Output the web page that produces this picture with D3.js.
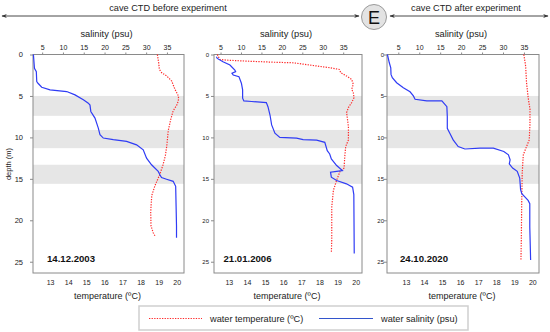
<!DOCTYPE html>
<html><head><meta charset="utf-8">
<script src="https://cdn.jsdelivr.net/npm/d3@7/dist/d3.min.js"></script>
<style>body{margin:0;background:#fff}svg{display:block;font-family:"Liberation Sans",Arial,sans-serif}</style>
</head><body>
<script>
// ---- data ----
const dates = ["14.12.2003", "21.01.2006", "24.10.2020"];
const salTicks = [5, 10, 15, 20, 25, 30, 35];
const tempTicks = [13, 14, 15, 16, 17, 18, 19, 20];
const depthTicks = [0, 5, 10, 15, 20, 25];
const bands = [[5.0, 7.4], [9.1, 11.3], [13.3, 15.6]];

// [depth, salinity]
const sal2003 = [[0,2.9],[1.67,3.15],[2.07,3.6],[3.27,3.7],[3.47,4.0],[3.95,4.9],[4.27,6.9],[4.47,10.9],[4.87,12.9],[5.47,14.9],[5.87,16.1],[6.1,16.5],[6.87,16.7],[7.67,17.7],[8.88,18.5],[9.68,18.9],[10.08,19.7],[10.28,22.1],[10.48,25.3],[10.9,27.7],[11.5,29.3],[12.5,30.1],[13.3,31.3],[14.1,32.9],[14.5,33.3],[14.85,33.7],[15.05,34.9],[15.3,36.5],[15.9,37.1],[18.3,37.2],[20.7,37.3],[22.1,37.3]];
// [depth, temperature]
const temp2003 = [[0,18.93],[1.0,19.0],[1.8,19.04],[2.2,19.17],[2.6,19.45],[3.2,19.72],[4.2,19.9],[5.0,20.09],[5.4,20.1],[6.0,20.03],[6.8,19.8],[7.8,19.67],[9.2,19.53],[11.0,19.45],[12.2,19.37],[13.4,19.23],[14.6,19.04],[15.8,18.8],[17.0,18.62],[19.0,18.56],[20.7,18.58],[21.5,18.7],[21.9,18.8]];

const sal2006 = [[0.26,4.0],[0.47,4.2],[0.87,5.6],[1.27,7.3],[1.87,8.5],[2.07,8.7],[2.27,7.8],[2.47,8.1],[2.67,9.5],[3.47,10.1],[4.27,10.4],[5.27,10.4],[5.6,10.7],[5.67,12.6],[5.8,16.2],[6.3,16.6],[7.3,17.1],[8.5,17.5],[9.5,18.3],[10.0,19.5],[10.1,23.6],[10.26,25.2],[10.34,28.5],[10.6,30.5],[11.6,31.1],[12.0,31.7],[12.6,32.1],[13.4,33.4],[14.0,34.8],[14.1,33.4],[14.2,31.9],[14.8,32.1],[15.2,33.4],[15.6,35.8],[16.0,37.3],[16.9,37.6],[24.0,37.7]];
const temp2006 = [[0,12.36],[0.6,12.5],[0.68,12.88],[0.8,13.98],[0.93,15.45],[1.0,16.56],[1.33,17.66],[1.6,18.59],[1.8,19.1],[2.2,19.18],[2.6,19.5],[3.0,19.78],[3.6,19.87],[4.2,19.78],[4.6,19.87],[5.2,19.91],[5.8,19.78],[6.4,19.6],[7.0,19.5],[8.7,19.6],[10.3,19.6],[11.1,19.45],[12.3,19.4],[13.7,19.36],[14.1,19.14],[15.1,18.96],[16.4,18.77],[18.4,18.68],[22.4,18.68],[23.8,18.66]];

const sal2020 = [[0,2.4],[1.0,2.85],[1.6,3.2],[2.4,3.26],[2.8,3.57],[3.4,4.6],[4.0,6.2],[4.5,7.8],[5.0,8.6],[5.4,9.0],[5.6,11.8],[5.6,15.4],[6.3,16.6],[7.5,16.7],[8.9,16.7],[9.5,17.3],[10.3,18.1],[11.1,19.3],[11.4,20.9],[11.3,24.5],[11.3,27.7],[11.7,30.2],[12.1,31.3],[12.7,31.7],[13.2,31.5],[13.7,32.3],[14.1,33.4],[14.9,34.0],[16.3,34.2],[16.8,34.5],[17.6,36.0],[18.0,36.4],[20.8,36.4],[24.8,36.6]];
const temp2020 = [[0,19.53],[1.4,19.63],[3.4,19.68],[5.2,19.77],[6.6,19.87],[8.3,19.87],[10.3,19.83],[11.1,19.68],[12.1,19.5],[14.3,19.44],[18.3,19.41],[22.4,19.39],[24.8,19.37]];

const salSeries = [sal2003, sal2006, sal2020];
const tempSeries = [temp2003, temp2006, temp2020];

// ---- layout ----
const W = 550, H = 332;
const panels = [
  {x0:33, x1:184, sal:[2.8,39.1], temp:[12.06,20.4], yLab:23, yFs:7.5, dateDx:14},
  {x0:214, x1:362, sal:[3.4,39.6], temp:[12.18,20.35], yLab:209, yFs:6, dateDx:9.5},
  {x0:387, x1:539, sal:[2.3,38.6], temp:[11.95,20.37], yLab:384, yFs:6, dateDx:13}
];
const yTop = 54.5, yBot = 273;
const y = d3.scaleLinear().domain([0, 26.36]).range([yTop, yBot]);
const BLUE = "#2f3cf5", RED = "#ff2a2a", BOX = "#8a8a8a";

const svg = d3.select("body").append("svg").attr("width", W).attr("height", H);
const defs = svg.append("defs");
defs.append("marker").attr("id","ah").attr("viewBox","0 0 10 10").attr("refX",9).attr("refY",5)
  .attr("markerWidth",6).attr("markerHeight",6).attr("orient","auto-start-reverse")
  .append("path").attr("d","M0,1.5 L10,5 L0,8.5 L3,5 Z").attr("fill","#333");

// header arrows
svg.append("line").attr("x1",2).attr("x2",359).attr("y1",16).attr("y2",16)
  .attr("stroke","#333").attr("stroke-width",0.9).attr("marker-start","url(#ah)").attr("marker-end","url(#ah)");
svg.append("line").attr("x1",390).attr("x2",548).attr("y1",16).attr("y2",16)
  .attr("stroke","#333").attr("stroke-width",0.9).attr("marker-start","url(#ah)").attr("marker-end","url(#ah)");
svg.append("text").attr("x",168).attr("y",11).attr("text-anchor","middle").attr("font-size",9.2).attr("fill","#222").text("cave CTD before experiment");
svg.append("text").attr("x",466).attr("y",11).attr("text-anchor","middle").attr("font-size",9.2).attr("fill","#222").text("cave CTD after experiment");
svg.append("circle").attr("cx",374).attr("cy",17).attr("r",12.5).attr("fill","#e3e3e3").attr("stroke","#9a9a9a").attr("stroke-width",1);
svg.append("text").attr("x",374).attr("y",23.5).attr("text-anchor","middle").attr("font-size",18).attr("fill","#111").text("E");

panels.forEach((p, i) => {
  const xs = d3.scaleLinear().domain(p.sal).range([p.x0, p.x1]);
  const xt = d3.scaleLinear().domain(p.temp).range([p.x0, p.x1]);
  const g = svg.append("g");

  // bands
  g.selectAll("rect.band").data(bands).join("rect").attr("class","band")
    .attr("x", p.x0).attr("width", p.x1 - p.x0)
    .attr("y", d => y(d[0])).attr("height", d => y(d[1]) - y(d[0]))
    .attr("fill", "#e6e6e6");

  // top salinity axis
  const top = g.append("g").attr("transform", `translate(0,${yTop})`)
    .call(d3.axisTop(xs).tickValues(salTicks).tickSize(2).tickPadding(3));
  top.select(".domain").remove();
  top.selectAll("line").attr("stroke", BOX);
  top.selectAll("text").attr("font-size", 7).attr("fill","#222").attr("font-family","Liberation Sans,Arial,sans-serif");

  // bottom temperature axis
  const bot = g.append("g").attr("transform", `translate(0,${yBot})`)
    .call(d3.axisBottom(xt).tickValues(tempTicks).tickSize(0).tickPadding(7));
  bot.select(".domain").remove();
  bot.selectAll("text").attr("font-size", 7).attr("fill","#222").attr("font-family","Liberation Sans,Arial,sans-serif");

  // left depth axis
  const left = g.append("g").attr("transform", `translate(${p.x0},0)`)
    .call(d3.axisLeft(y).tickValues(depthTicks).tickSize(3).tickPadding(p.x0 - p.yLab - 3));
  left.select(".domain").remove();
  left.selectAll("line").attr("stroke", BOX);
  left.selectAll("text").attr("font-size", p.yFs).attr("fill","#222").attr("font-family","Liberation Sans,Arial,sans-serif");

  // box
  g.append("rect").attr("x", p.x0).attr("y", yTop).attr("width", p.x1 - p.x0).attr("height", yBot - yTop)
    .attr("fill","none").attr("stroke", BOX).attr("stroke-width", 1);

  // lines
  const lineS = d3.line().x(d => xs(d[1])).y(d => y(d[0]));
  const lineT = d3.line().x(d => xt(d[1])).y(d => y(d[0]));
  g.append("path").datum(tempSeries[i]).attr("d", lineT).attr("fill","none")
    .attr("stroke", RED).attr("stroke-width", 1.2).attr("stroke-dasharray","1.3,1.3");
  g.append("path").datum(salSeries[i]).attr("d", lineS).attr("fill","none")
    .attr("stroke", BLUE).attr("stroke-width", 1.2);

  // labels
  g.append("text").attr("x", (p.x0 + p.x1) / 2 - 2).attr("y", 37).attr("text-anchor","middle")
    .attr("font-size", 9.3).attr("fill","#222").text("salinity (psu)");
  g.append("text").attr("x", (p.x0 + p.x1) / 2 - 1).attr("y", 299).attr("text-anchor","middle")
    .attr("font-size", 9).attr("fill","#222").text("temperature (ºC)");
  g.append("text").attr("x", p.x0 + p.dateDx).attr("y", 262).attr("font-size", 9.6).attr("font-weight","bold")
    .attr("fill","#111").text(dates[i]);
});

// depth label
svg.append("text").attr("transform","translate(11,164) rotate(-90)").attr("text-anchor","middle")
  .attr("font-size", 7.5).attr("fill","#222").text("depth (m)");

// legend
const lg = svg.append("g");
lg.append("rect").attr("x",139).attr("y",306).attr("width",329).attr("height",24)
  .attr("fill","#fff").attr("stroke","#cfcfcf").attr("stroke-width",1.5);
lg.append("line").attr("x1",149).attr("x2",202).attr("y1",318.5).attr("y2",318.5)
  .attr("stroke",RED).attr("stroke-width",1.2).attr("stroke-dasharray","1.3,1.3");
lg.append("text").attr("x",210).attr("y",321.5).attr("font-size",9.2).attr("fill","#222").text("water temperature (ºC)");
lg.append("line").attr("x1",319).attr("x2",373).attr("y1",318.5).attr("y2",318.5)
  .attr("stroke","#3355cc").attr("stroke-width",1.2);
lg.append("text").attr("x",381).attr("y",321.5).attr("font-size",9.2).attr("fill","#222").text("water salinity (psu)");
</script>
</body></html>
